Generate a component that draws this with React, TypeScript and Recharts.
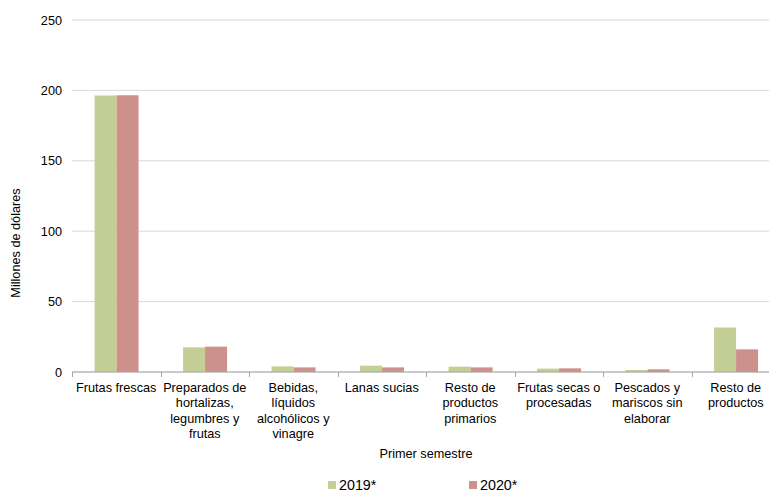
import React from 'react';
import { BarChart, Bar, XAxis, YAxis, CartesianGrid, Label } from 'recharts';

const categories = [
  'Frutas frescas',
  'Preparados de hortalizas, legumbres y frutas',
  'Bebidas, líquidos alcohólicos y vinagre',
  'Lanas sucias',
  'Resto de productos primarios',
  'Frutas secas o procesadas',
  'Pescados y mariscos sin elaborar',
  'Resto de productos',
];
const categoryLines: string[][] = [
  ['Frutas frescas'],
  ['Preparados de', 'hortalizas,', 'legumbres y', 'frutas'],
  ['Bebidas,', 'líquidos', 'alcohólicos y', 'vinagre'],
  ['Lanas sucias'],
  ['Resto de', 'productos', 'primarios'],
  ['Frutas secas o', 'procesadas'],
  ['Pescados y', 'mariscos sin', 'elaborar'],
  ['Resto de', 'productos'],
];
const values2019 = [196.3, 17.5, 4.0, 4.5, 3.8, 2.4, 1.4, 31.6];
const values2020 = [196.6, 18.0, 3.3, 3.3, 3.3, 2.6, 1.9, 16.1];
const yTicks = [0, 50, 100, 150, 200, 250];
const seriesNames = ['2019*', '2020*'];

const data = categories.map((c, i) => ({
  name: c,
  s2019: values2019[i],
  s2020: values2020[i],
}));

const FONT = '"Liberation Sans", Arial, sans-serif';
const COLOR_2019 = '#c4cf96';
const COLOR_2020 = '#cd918c';

const CHART_W = 783;
const CHART_H = 491;
const PLOT_LEFT = 72;
const PLOT_RIGHT = 780;
const PLOT_BOTTOM = 372;

const XTick = (props: any) => {
  const { x, y, payload } = props;
  const i = categories.indexOf(payload.value);
  const lines = i >= 0 ? categoryLines[i] : [payload.value];
  return (
    <g transform={`translate(${x},${y})`}>
      <text textAnchor="middle" fill="#000" fontSize={12.7} fontFamily={FONT}>
        {lines.map((l, k) => (
          <tspan key={k} x={0} dy={k === 0 ? 12 : 15.3}>
            {l}
          </tspan>
        ))}
      </text>
    </g>
  );
};

export default function App() {
  const catW = (PLOT_RIGHT - PLOT_LEFT) / categories.length;
  return (
    <div style={{ position: 'absolute', left: 0, top: 0, width: 769, height: 491, background: '#fff', overflow: 'hidden' }}>
      <BarChart
        width={CHART_W}
        height={CHART_H}
        data={data}
        margin={{ top: 20, right: CHART_W - PLOT_RIGHT, left: 0, bottom: 30 }}
        barCategoryGap="25.5%"
        barGap={0}
      >
        <CartesianGrid vertical={false} stroke="#d9d9d9" />
        <XAxis
          dataKey="name"
          interval={0}
          height={89}
          tick={<XTick />}
          tickLine={false}
          axisLine={{ stroke: '#a6a6a6' }}
        >
          <Label
            value="Primer semestre"
            position="insideBottom"
            offset={3}
            style={{ fontSize: 12.7, fontFamily: FONT, fill: '#000' }}
          />
        </XAxis>
        <YAxis
          width={PLOT_LEFT}
          domain={[0, 250]}
          ticks={yTicks}
          axisLine={false}
          tickLine={false}
          tickSize={8}
          tickMargin={2}
          tick={{ fontSize: 12.7, fontFamily: FONT, fill: '#000' }}
        />
        <Bar dataKey="s2019" name={seriesNames[0]} fill={COLOR_2019} isAnimationActive={false} />
        <Bar dataKey="s2020" name={seriesNames[1]} fill={COLOR_2020} isAnimationActive={false} />
      </BarChart>
      <svg style={{ position: 'absolute', left: 0, top: 0, pointerEvents: 'none' }} width={769} height={491}>
        {Array.from({ length: categories.length + 1 }).map((_, k) => {
          const x = Math.round(PLOT_LEFT + k * catW) + 0.5;
          return <line key={k} x1={x} x2={x} y1={PLOT_BOTTOM} y2={PLOT_BOTTOM + 5} stroke="#a6a6a6" />;
        })}
        <text
          transform="translate(20,243) rotate(-90)"
          textAnchor="middle"
          fontSize={12.7}
          fontFamily={FONT}
          fill="#000"
        >
          Millones de dólares
        </text>
        <rect x={328} y={481} width={8} height={8} fill={COLOR_2019} />
        <text x={339} y={489.5} fontSize={14.3} fontFamily={FONT} fill="#000">{seriesNames[0]}</text>
        <rect x={469} y={481} width={8} height={8} fill={COLOR_2020} />
        <text x={480} y={489.5} fontSize={14.3} fontFamily={FONT} fill="#000">{seriesNames[1]}</text>
      </svg>
    </div>
  );
}
